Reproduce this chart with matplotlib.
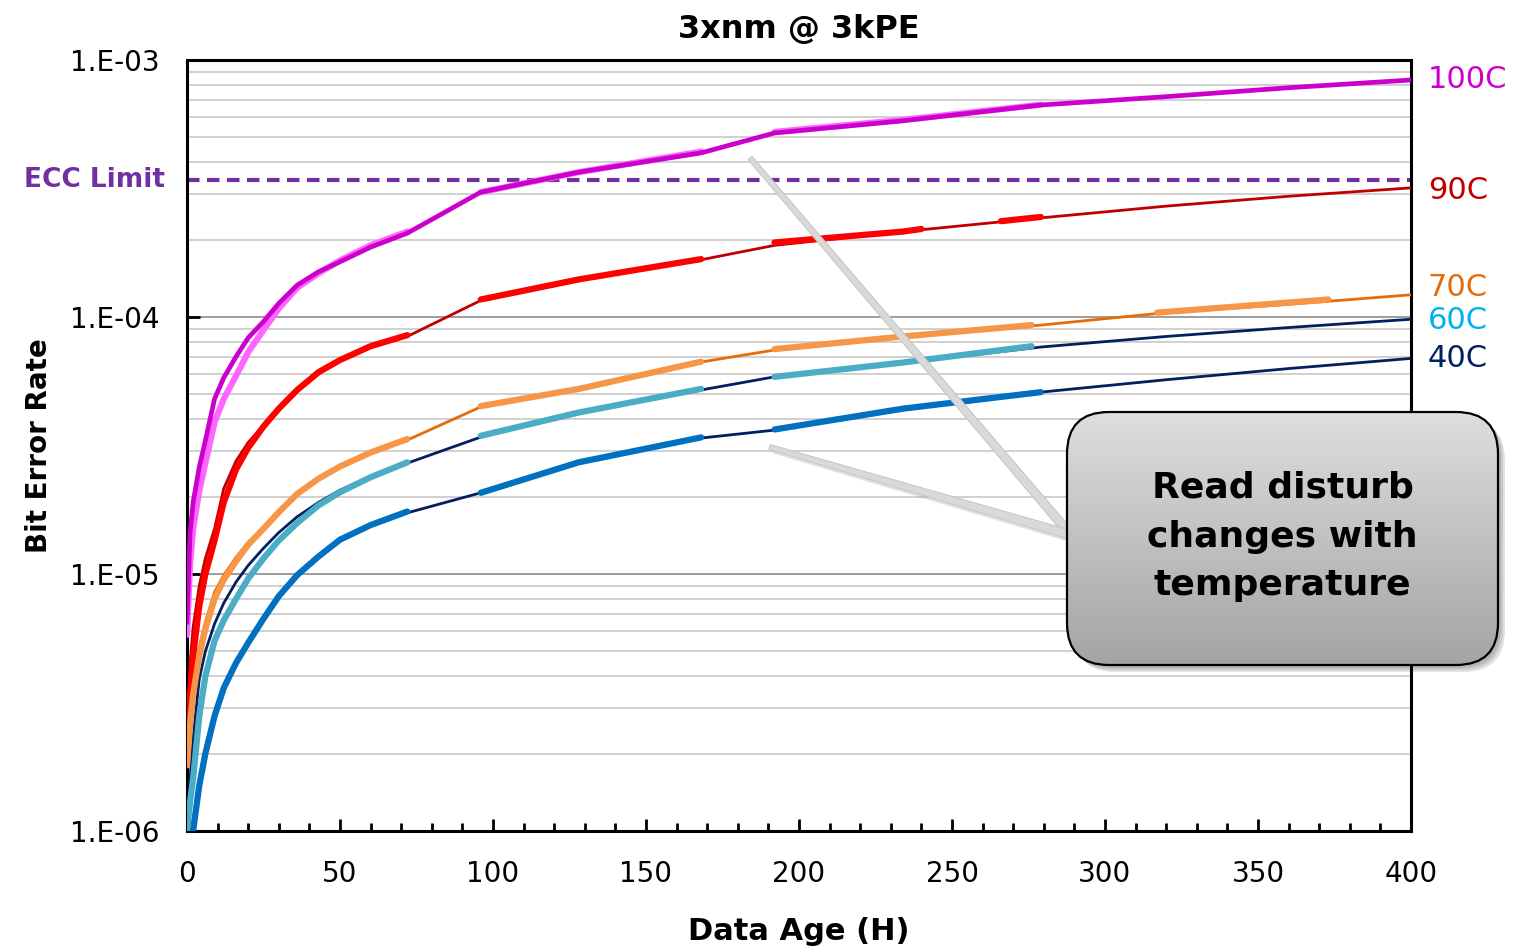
import numpy as np
import matplotlib.pyplot as plt
from matplotlib.patches import FancyBboxPatch, Polygon
from matplotlib.colors import LinearSegmentedColormap
from matplotlib.ticker import LogLocator, MultipleLocator, FuncFormatter, NullFormatter

nan = np.nan

temps = ['100C', '90C', '70C', '60C', '40C']

# fitted trend lines (hours -> bit error rate)
fit_hours = [0, 1, 2, 4, 6, 9, 12, 16, 20, 25, 30, 36, 43, 50, 60, 72,
             96, 128, 168, 192, 234, 279, 320, 360, 400]
fit_100c = [6.5e-6, 1.45e-5, 1.9e-5, 2.6e-5, 3.3e-5, 4.8e-5, 5.8e-5, 7.0e-5, 8.3e-5,
            9.6e-5, 1.13e-4, 1.33e-4, 1.5e-4, 1.64e-4, 1.87e-4, 2.12e-4,
            3.06e-4, 3.66e-4, 4.35e-4, 5.2e-4, 5.8e-4, 6.68e-4, 7.2e-4, 7.8e-4, 8.36e-4]
fit_90c = [2.5e-6, 4.5e-6, 6.2e-6, 9.0e-6, 1.15e-5, 1.5e-5, 2.15e-5, 2.75e-5, 3.25e-5,
           3.8e-5, 4.45e-5, 5.2e-5, 6.0e-5, 6.8e-5, 7.6e-5, 8.4e-5,
           1.16e-4, 1.39e-4, 1.67e-4, 1.9e-4, 2.15e-4, 2.43e-4, 2.7e-4, 2.95e-4, 3.18e-4]
fit_70c = [1.9e-6, 2.8e-6, 3.7e-6, 5.2e-6, 6.5e-6, 8.5e-6, 9.9e-6, 1.16e-5, 1.33e-5,
           1.52e-5, 1.75e-5, 2.07e-5, 2.35e-5, 2.6e-5, 2.95e-5, 3.32e-5,
           4.47e-5, 5.2e-5, 6.68e-5, 7.44e-5, 8.36e-5, 9.3e-5, 1.04e-4, 1.12e-4, 1.22e-4]
fit_60c = [1.0e-6, 1.6e-6, 2.3e-6, 3.9e-6, 5.0e-6, 6.4e-6, 7.7e-6, 9.3e-6, 1.08e-5,
           1.26e-5, 1.45e-5, 1.67e-5, 1.9e-5, 2.12e-5, 2.4e-5, 2.7e-5,
           3.41e-5, 4.23e-5, 5.2e-5, 5.85e-5, 6.62e-5, 7.64e-5, 8.4e-5, 9.1e-5, 9.8e-5]
fit_40c = [7.0e-7, 9.0e-7, 1.1e-6, 1.6e-6, 2.1e-6, 2.9e-6, 3.7e-6, 4.6e-6, 5.5e-6,
           6.8e-6, 8.2e-6, 1.0e-5, 1.18e-5, 1.36e-5, 1.55e-5, 1.73e-5,
           2.07e-5, 2.7e-5, 3.38e-5, 3.63e-5, 4.35e-5, 5.1e-5, 5.7e-5, 6.3e-5, 6.9e-5]

# measured data, nan separates the measurement windows
early = [0, 1, 2, 4, 6, 9, 12, 16, 20, 25, 30, 36, 43, 50, 60, 72]
meas_hours_100c = early + [nan, 96, 128, 168, nan, 192, 234, 279]
meas_100c = [5.8e-6, 1.1e-5, 1.5e-5, 2.1e-5, 2.7e-5, 3.9e-5, 4.8e-5, 5.9e-5, 7.3e-5,
             8.9e-5, 1.08e-4, 1.3e-4, 1.48e-4, 1.66e-4, 1.9e-4, 2.15e-4,
             nan, 3.06e-4, 3.66e-4, 4.4e-4, nan, 5.25e-4, 5.85e-4, 6.7e-4]
meas_hours_90c = early + [nan, 96, 128, 168, nan, 192, 234, 240, nan, 266, 279]
meas_90c = [2.0e-6, 3.3e-6, 4.8e-6, 7.5e-6, 1.0e-5, 1.35e-5, 1.9e-5, 2.55e-5, 3.1e-5,
            3.75e-5, 4.4e-5, 5.2e-5, 6.1e-5, 6.8e-5, 7.7e-5, 8.5e-5,
            nan, 1.17e-4, 1.4e-4, 1.68e-4, nan, 1.95e-4, 2.15e-4, 2.2e-4, nan, 2.36e-4, 2.45e-4]
meas_hours_70c = early + [nan, 96, 128, 168, nan, 192, 234, 276, nan, 317, 373]
meas_70c = [1.8e-6, 2.6e-6, 3.4e-6, 4.8e-6, 6.1e-6, 8.0e-6, 9.5e-6, 1.12e-5, 1.3e-5,
            1.5e-5, 1.74e-5, 2.05e-5, 2.35e-5, 2.62e-5, 2.97e-5, 3.35e-5,
            nan, 4.5e-5, 5.25e-5, 6.7e-5, nan, 7.5e-5, 8.4e-5, 9.3e-5, nan, 1.04e-4, 1.17e-4]
meas_hours_60c = early + [nan, 96, 128, 168, nan, 192, 234, 276]
meas_60c = [1.0e-6, 1.3e-6, 1.6e-6, 2.8e-6, 4.0e-6, 5.5e-6, 6.6e-6, 8.0e-6, 9.6e-6,
            1.15e-5, 1.35e-5, 1.58e-5, 1.85e-5, 2.08e-5, 2.38e-5, 2.72e-5,
            nan, 3.45e-5, 4.25e-5, 5.25e-5, nan, 5.85e-5, 6.65e-5, 7.7e-5]
meas_hours_40c = early + [nan, 96, 128, 168, nan, 192, 234, 279]
meas_40c = [7.0e-7, 8.5e-7, 1.0e-6, 1.5e-6, 2.0e-6, 2.8e-6, 3.6e-6, 4.5e-6, 5.4e-6,
            6.7e-6, 8.2e-6, 9.9e-6, 1.17e-5, 1.36e-5, 1.55e-5, 1.75e-5,
            nan, 2.07e-5, 2.72e-5, 3.4e-5, nan, 3.65e-5, 4.4e-5, 5.1e-5]

ecc_limit = 3.4e-4

fits = [fit_100c, fit_90c, fit_70c, fit_60c, fit_40c]
meas_x = [meas_hours_100c, meas_hours_90c, meas_hours_70c, meas_hours_60c, meas_hours_40c]
meas_y = [meas_100c, meas_90c, meas_70c, meas_60c, meas_40c]

fit_colors = ['#CC00CC', '#C00000', '#E46C0A', '#002060', '#002060']
meas_colors = ['#FF66FF', '#FF0000', '#F79646', '#4BACC6', '#0070C0']
label_colors = ['#CC00CC', '#C00000', '#E46C0A', '#00B0F0', '#002060']
fit_widths = [3.4, 2.0, 2.0, 2.0, 2.0]
label_nudge = [0, -2, 5, -1, 0]  # points

plt.rcParams['font.family'] = 'DejaVu Sans'

fig = plt.figure(figsize=(15.18, 9.52), dpi=100)
ax = fig.add_axes([187/1518, 121/952, 1224/1518, 771/952])

for i in range(len(temps)):
    if i == 0:
        ax.plot(meas_x[i], meas_y[i], color=meas_colors[i], lw=4.5, zorder=3,
                solid_capstyle='round')
        ax.plot(fit_hours, fits[i], color=fit_colors[i], lw=fit_widths[i], zorder=4)
    else:
        ax.plot(fit_hours, fits[i], color=fit_colors[i], lw=fit_widths[i], zorder=3)
        ax.plot(meas_x[i], meas_y[i], color=meas_colors[i], lw=4.5, zorder=4,
                solid_capstyle='round')
    ax.annotate(temps[i], xy=(1.0, fits[i][-1]), xycoords=('axes fraction', 'data'),
                xytext=(12, label_nudge[i]), textcoords='offset points',
                color=label_colors[i], fontsize=22, va='center', ha='left',
                annotation_clip=False)

# ECC limit
ax.axhline(ecc_limit, color='#7030A0', lw=3, dashes=(3, 1.8), zorder=2.5)
ax.annotate('ECC Limit', xy=(0, ecc_limit), xycoords=('axes fraction', 'data'),
            xytext=(-16, 0), textcoords='offset points', color='#7030A0',
            fontsize=19, fontweight='bold', ha='right', va='center',
            annotation_clip=False)

ax.set_yscale('log')
ax.set_ylim(1e-6, 1e-3)
ax.set_xlim(0, 400)
ax.xaxis.set_major_locator(MultipleLocator(50))
ax.xaxis.set_minor_locator(MultipleLocator(10))
ax.yaxis.set_major_locator(LogLocator(base=10, numticks=10))
ax.yaxis.set_minor_locator(LogLocator(base=10, subs=range(2, 10), numticks=20))
ax.yaxis.set_minor_formatter(NullFormatter())
ax.yaxis.set_major_formatter(FuncFormatter(
    lambda v, _: '1.E-%02d' % int(round(-np.log10(v)))))

ax.tick_params(axis='x', which='major', direction='in', length=9, width=2,
               labelsize=20, pad=21)
ax.tick_params(axis='x', which='minor', direction='in', length=6, width=2)
ax.tick_params(axis='y', which='major', direction='in', length=9, width=2,
               labelsize=20, pad=20)
ax.tick_params(axis='y', which='minor', length=0)

ax.grid(True, axis='y', which='minor', color='#C4C4C4', lw=1.1, zorder=0)
ax.grid(True, axis='y', which='major', color='#8C8C8C', lw=1.2, zorder=0)
ax.set_axisbelow(True)
for s in ax.spines.values():
    s.set_linewidth(2.2)
    s.set_color('black')

ax.set_title('3xnm @ 3kPE', fontsize=23, fontweight='bold', pad=16)
ax.set_xlabel('Data Age (H)', fontsize=22, fontweight='bold', labelpad=21)
ax.set_ylabel('Bit Error Rate', fontsize=20, fontweight='bold', labelpad=12)

# callout arms, axes-fraction coordinates
pos = ax.get_position()
axw, axh = pos.width * 1518, pos.height * 952


def arm(tip, base, w_tip, w_base, **kw):
    dx, dy = (base[0] - tip[0]) * axw, (base[1] - tip[1]) * axh
    n = np.hypot(dx, dy)
    px, py = -dy / n, dx / n
    pts = [(tip[0] + px * w_tip / axw, tip[1] + py * w_tip / axh),
           (base[0] + px * w_base / axw, base[1] + py * w_base / axh),
           (base[0] - px * w_base / axw, base[1] - py * w_base / axh),
           (tip[0] - px * w_tip / axw, tip[1] - py * w_tip / axh)]
    ax.add_patch(Polygon(pts, closed=True, transform=ax.transAxes,
                         clip_on=False, zorder=10, **kw))


base = (0.722, 0.384)
for tip in [(0.46, 0.873), (0.476, 0.498)]:
    arm((tip[0] + 0.003, tip[1] - 0.005), (base[0] + 0.003, base[1] - 0.005), 2.5, 4.5,
        facecolor='#9A9A9A', edgecolor='none', alpha=0.3)
    arm(tip, base, 2.5, 4.5, facecolor='#D9D9D9', edgecolor='#C8C8C8', lw=0.8)

# rounded callout box with gradient fill
bw, bh, m = 431, 253, 14
bx = fig.add_axes([(1067 - m) / 1518, (952 - 665 - m) / 952,
                   (bw + 2 * m) / 1518, (bh + 2 * m) / 952])
bx.set_xlim(-m, bw + m)
bx.set_ylim(-m, bh + m)
bx.axis('off')

for k, a in enumerate([0.10, 0.10, 0.12]):
    off = 3 + 2 * k
    bx.add_patch(FancyBboxPatch((off, -off), bw, bh,
                                boxstyle='round,pad=0,rounding_size=42',
                                facecolor='black', edgecolor='none', alpha=a))
box = FancyBboxPatch((0, 0), bw, bh, boxstyle='round,pad=0,rounding_size=42',
                     facecolor='none', edgecolor='black', lw=1.6, zorder=3)
bx.add_patch(box)
grad = np.linspace(0, 1, 256).reshape(-1, 1)
cmap = LinearSegmentedColormap.from_list('box', ['#A4A4A4', '#DEDEDE'])
im = bx.imshow(grad, cmap=cmap, extent=[0, bw, 0, bh], origin='lower',
               aspect='auto', zorder=2)
im.set_clip_path(box)
bx.text(bw / 2, bh / 2 + 2, 'Read disturb\nchanges with\ntemperature',
        ha='center', va='center', fontsize=26, fontweight='bold',
        linespacing=1.55, zorder=4)

fig.savefig('out.png', dpi=100)
